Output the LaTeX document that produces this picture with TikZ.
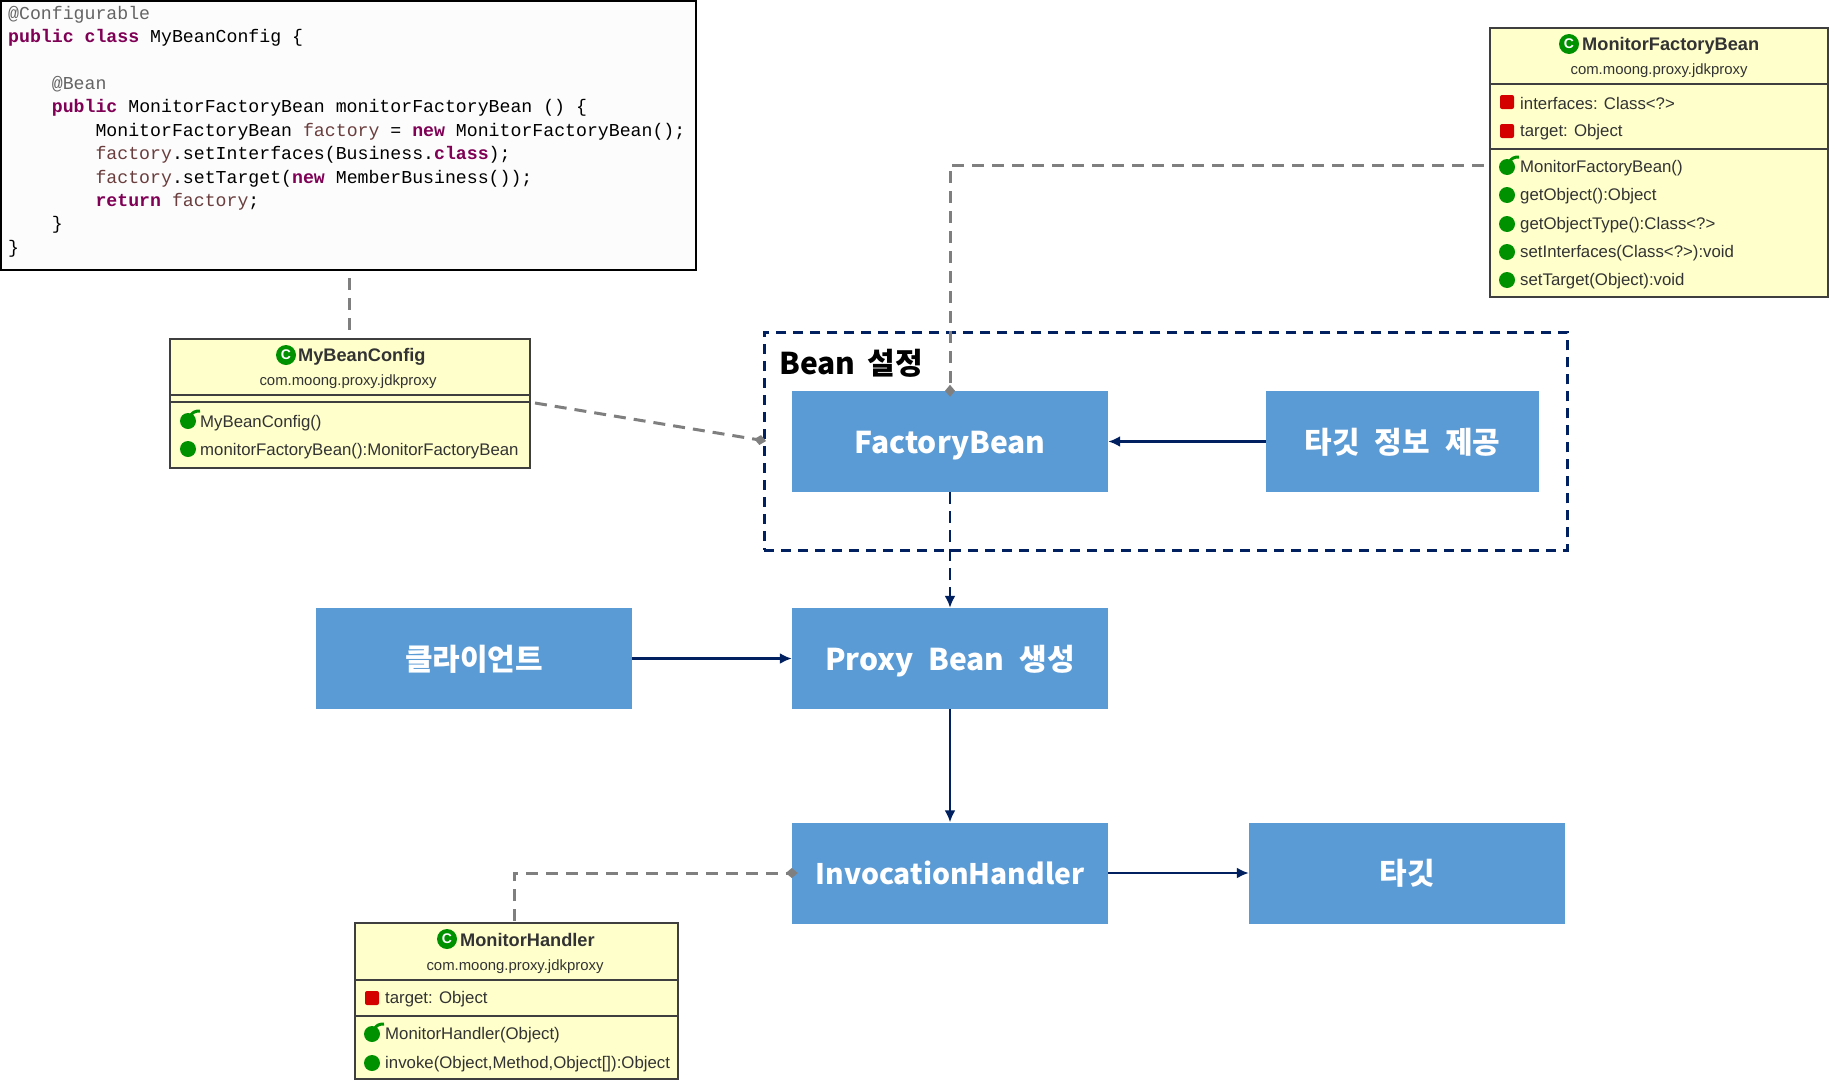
\documentclass[tikz,border=0pt]{standalone}
\usepackage{fontspec}
\usepackage{xcolor}
\setmainfont{Liberation Sans}
\setmonofont{Liberation Mono}
\newfontfamily\krfont{Noto Sans CJK KR}
\usetikzlibrary{arrows.meta,positioning}
\definecolor{BoxBlue}{HTML}{5B9BD5}
\definecolor{Navy}{HTML}{002060}
\definecolor{LinkGray}{HTML}{7F7F7F}
\definecolor{Cream}{HTML}{FFFFCC}
\definecolor{UmlBorder}{HTML}{3F3F3F}
\definecolor{UmlGreen}{HTML}{009100}
\definecolor{UmlRed}{HTML}{D40000}
\definecolor{UmlText}{HTML}{333333}
\definecolor{CodeKey}{HTML}{7F0055}
\definecolor{CodeNote}{HTML}{646464}
\definecolor{CodeVar}{HTML}{6A3E3E}
\newcommand{\kw}[1]{\textcolor{CodeKey}{\textbf{#1}}}
\newcommand{\var}[1]{\textcolor{CodeVar}{#1}}
\newcommand{\ind}[1]{\hspace*{#1\dimexpr0.6em\relax}}

\begin{document}
\begin{tikzpicture}[
  x=1pt,
  y=-1pt,
  stage/.style={minimum width=316pt,minimum height=101pt,fill=BoxBlue,inner sep=0pt,text=white,text height=27pt,text depth=4pt,font=\krfont\bfseries\fontsize{30}{32}\selectfont,execute at begin node={\spaceskip=0.5em\relax}},
  umlbox/.style={anchor=north west,draw=UmlBorder,line width=1.6pt,fill=Cream,inner sep=0pt},
  umlrule/.style={draw=UmlBorder,line width=1.4pt},
  title/.style={anchor=west,inner sep=0pt,yshift=-2pt,text=UmlText,font=\bfseries\fontsize{18.2}{20}\selectfont},
  pkg/.style={inner sep=0pt,yshift=-2pt,text=UmlText,font=\fontsize{14.9}{18}\selectfont},
  member/.style={anchor=west,inner sep=0pt,yshift=-1.5pt,text=UmlText,font=\fontsize{16.8}{19}\selectfont},
  classicon/.style={circle,fill=UmlGreen,text=white,inner sep=0pt,minimum size=20pt,font=\bfseries\fontsize{14}{14}\selectfont},
  methodicon/.pic={\fill[UmlGreen] (0,0) circle (8pt);},
  ctoricon/.pic={\fill[UmlGreen] (0,0) circle (8pt);
    \draw[UmlGreen,line width=3pt] (2,-4) .. controls (4,-9) and (7,-10) .. (12,-10);},
  fieldicon/.pic={\fill[UmlRed,rounded corners=2pt] (-7,-7) rectangle (7,7);},
  flow/.style={draw=Navy,line width=2.4pt,-{Latex[length=12pt,width=11pt]}},
  link/.style={draw=LinkGray,line width=3pt,dash pattern=on 12pt off 8pt,-{Diamond[length=12pt,width=10pt]}}
]
  \useasboundingbox (0,0) rectangle (1835,1087);

  % Code listing
  \node[anchor=north west,draw=black,line width=2pt,fill=white!99!black,minimum width=695pt,minimum height=269pt,inner sep=0pt] (codebox) at (0,0) {};
  \node[anchor=north west,inner sep=0pt,align=left,font=\ttfamily\fontsize{18.2}{23.4}\selectfont] (codetext) at (8,6) {%
    \textcolor{CodeNote}{@Configurable}\\
    \kw{public} \kw{class} MyBeanConfig \{\\
    \mbox{}\\
    \ind{4}\textcolor{CodeNote}{@Bean}\\
    \ind{4}\kw{public} MonitorFactoryBean monitorFactoryBean () \{\\
    \ind{8}MonitorFactoryBean \var{factory} = \kw{new} MonitorFactoryBean();\\
    \ind{8}\var{factory}.setInterfaces(Business.\kw{class});\\
    \ind{8}\var{factory}.setTarget(\kw{new} MemberBusiness());\\
    \ind{8}\kw{return} \var{factory};\\
    \ind{4}\}\\
    \}};

  % Bean group
  \node[anchor=north west,draw=Navy,line width=2.6pt,dash pattern=on 10pt off 7pt,minimum width=803pt,minimum height=218pt,inner sep=0pt] (beangroup) at (763,331) {};
  \node[anchor=west,inner sep=0pt,font=\krfont\bfseries\fontsize{30}{32}\selectfont,execute at begin node={\spaceskip=0.4em\relax}] (beanlabel) at (779,363) {Bean 설정};

  % Blue boxes
  \node[stage] (factorybean) at (950,441.5) {FactoryBean};
  \node[stage,minimum width=273pt] (targetinfo) at (1402.5,441.5) {타깃 정보 제공};
  \node[stage] (proxybean) at (950,658.5) {Proxy Bean 생성};
  \node[stage] (client) at (474,658.5) {클라이언트};
  \node[stage,font=\krfont\bfseries\fontsize{28.3}{32}\selectfont] (handler) at (950,873) {InvocationHandler};
  \node[stage] (target) at (1407,873) {타깃};

  % MyBeanConfig class
  \node[umlbox,minimum width=360pt,minimum height=129pt] (configbox) at (169,338) {};
  \node[classicon] (configicon) at (286,355) {C};
  \node[title] (configtitle) at (298,355) {MyBeanConfig};
  \node[pkg] (configpkg) at (348,380) {com.moong.proxy.jdkproxy};
  \draw[umlrule] (169,395) -- (529,395);
  \draw[umlrule] (169,402) -- (529,402);
  \pic at (188,421) {ctoricon};
  \node[member] (configm1) at (200,422) {MyBeanConfig()};
  \pic at (188,449) {methodicon};
  \node[member] (configm2) at (200,450) {monitorFactoryBean():MonitorFactoryBean};

  % MonitorFactoryBean class
  \node[umlbox,minimum width=338pt,minimum height=269pt] (factorybox) at (1489,27) {};
  \node[classicon] (factoryicon) at (1569,44) {C};
  \node[title] (factorytitle) at (1582,44) {MonitorFactoryBean};
  \node[pkg] (factorypkg) at (1659,69) {com.moong.proxy.jdkproxy};
  \draw[umlrule] (1489,84) -- (1827,84);
  \draw[umlrule] (1489,149) -- (1827,149);
  \foreach \y/\txt [count=\i] in {102/{interfaces: Class<?>},131/{target: Object}} {
    \pic at (1507,\y) {fieldicon};
    \node[member] (factoryf\i) at (1520,\y) {\txt};
  }
  \pic at (1507,167) {ctoricon};
  \foreach \y/\txt [count=\i] in {167/{MonitorFactoryBean()},195/{getObject():Object},224/{getObjectType():Class<?>},252/{setInterfaces(Class<?>):void},280/{setTarget(Object):void}} {
    \node[member] (factorym\i) at (1520,\y) {\txt};
  }
  \foreach \y in {195,224,252,280} {\pic at (1507,\y) {methodicon};}

  % MonitorHandler class
  \node[umlbox,minimum width=323pt,minimum height=156pt] (handlerbox) at (354,922) {};
  \node[classicon] (handlericon) at (447,939) {C};
  \node[title] (handlertitle) at (460,938) {MonitorHandler};
  \node[pkg] (handlerpkg) at (515,965) {com.moong.proxy.jdkproxy};
  \draw[umlrule] (354,980) -- (677,980);
  \draw[umlrule] (354,1016) -- (677,1016);
  \pic at (372,998) {fieldicon};
  \node[member] (handlerf1) at (385,998) {target: Object};
  \pic at (372,1034) {ctoricon};
  \node[member] (handlerm1) at (385,1034) {MonitorHandler(Object)};
  \pic at (372,1063) {methodicon};
  \node[member] (handlerm2) at (385,1063) {invoke(Object,Method,Object[]):Object};

  % Connectors
  \coordinate (codeport) at (349,278);
  \coordinate (configtop) at (349,334);
  \coordinate (configport) at (535,403);
  \coordinate (groupport) at (772,442);
  \coordinate (factoryport) at (1484,165);
  \coordinate (handlerport) at (514,921);
  \draw[flow] (targetinfo) -- (factorybean);
  \draw[flow,dash pattern=on 12pt off 7pt] (factorybean) -- (proxybean);
  \draw[flow] (client) -- (proxybean);
  \draw[flow] (proxybean) -- (handler);
  \draw[flow] (handler) -- (target);
  \draw[link,-] (codeport) -- (configtop);
  \draw[link,shorten >=6pt] (configport) -- (groupport);
  \draw[link,shorten >=-6pt] (factoryport) -| (factorybean.north);
  \draw[link,shorten >=-6pt] (handlerport) |- (handler.west);
\end{tikzpicture}
\end{document}
